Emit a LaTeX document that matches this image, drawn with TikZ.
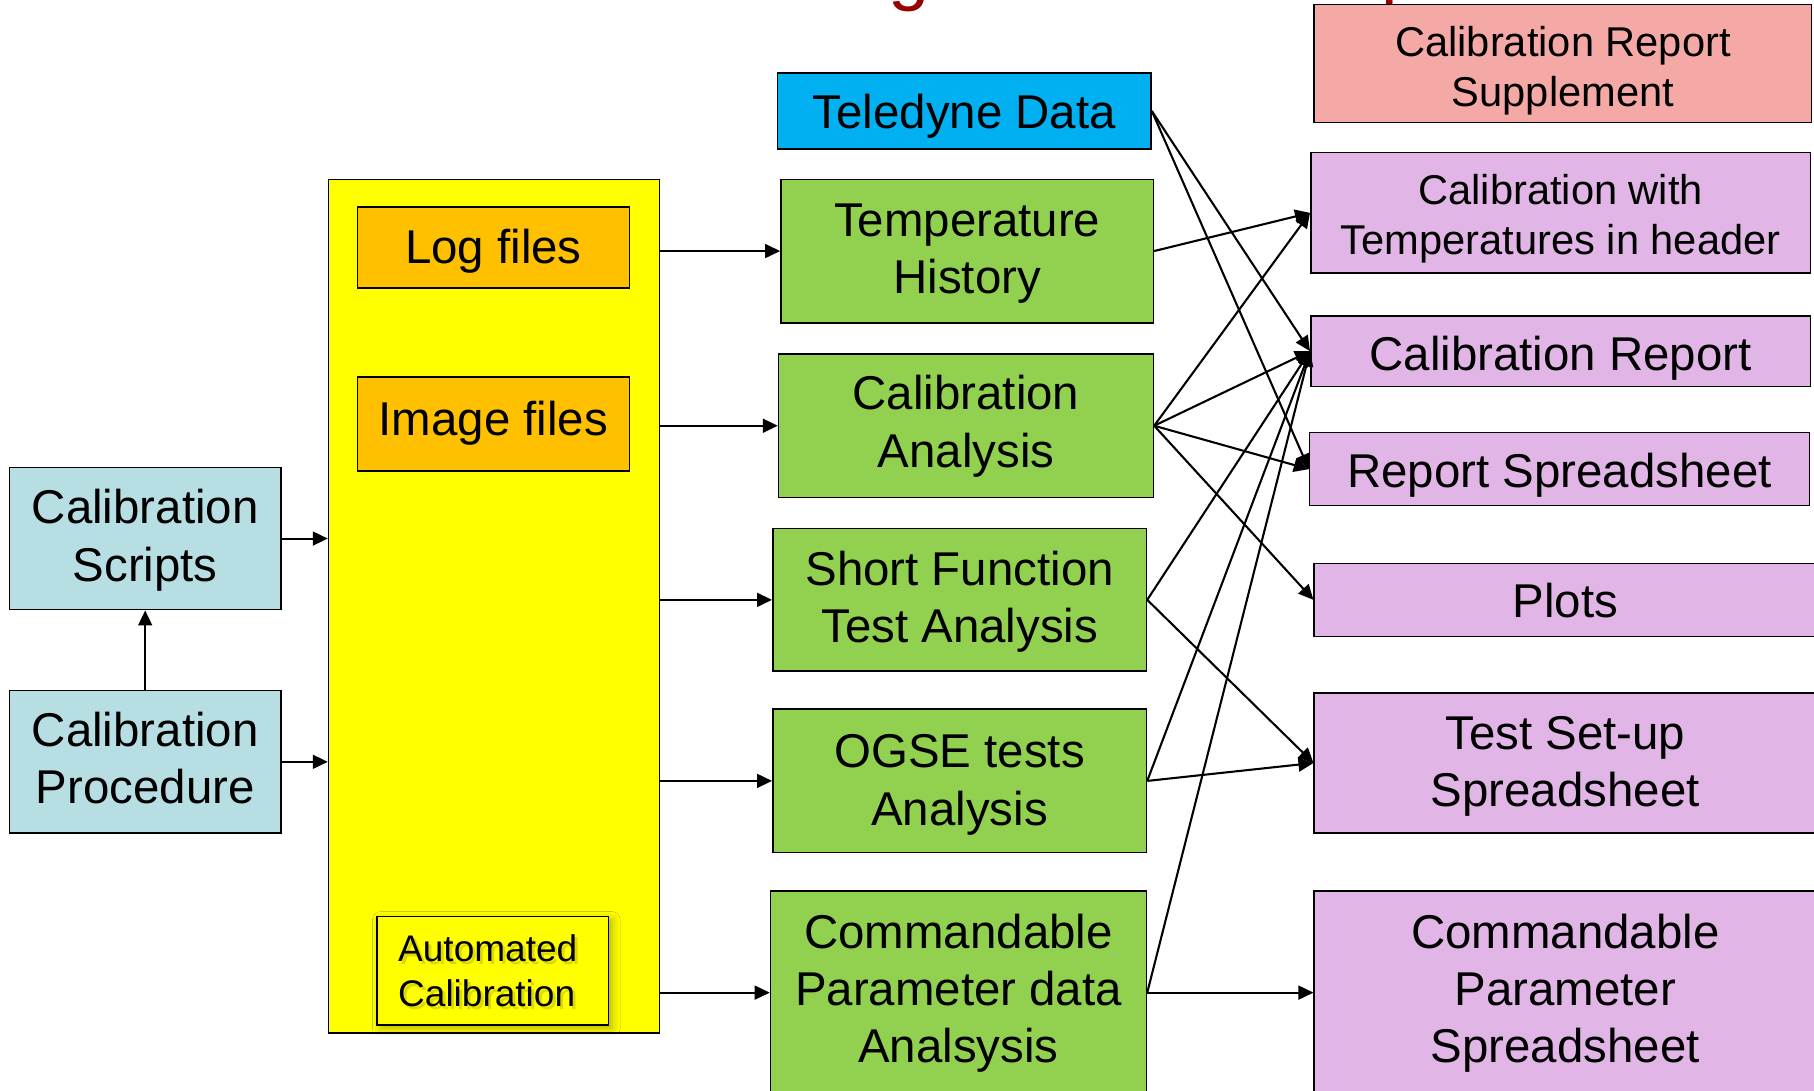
\documentclass[tikz,border=0pt]{standalone}
\usepackage{fontspec}
\setmainfont{Liberation Sans}
\usetikzlibrary{arrows.meta,shadows.blur}

\definecolor{scriptcol}{HTML}{B7DFE3}
\definecolor{filecol}{HTML}{FFFF00}
\definecolor{logcol}{HTML}{FFC000}
\definecolor{sourcecol}{HTML}{00B0F0}
\definecolor{analysiscol}{HTML}{92D050}
\definecolor{suppcol}{HTML}{F5A9A6}
\definecolor{productcol}{HTML}{E1B6E6}
\definecolor{titlecol}{HTML}{960000}

\newcommand{\bigtxt}{\fontsize{41}{49.5}\selectfont}
\newcommand{\midtxt}{\fontsize{36}{43.5}\selectfont}
\newcommand{\smalltxt}{\fontsize{32}{38.5}\selectfont}
% invisible strut that sets the height of a first text line
\newcommand{\lineup}[1]{\rule{0pt}{#1pt}}

\begin{document}
\begin{tikzpicture}[x=1pt,y=-1pt,
  texttop/.style={execute at begin node={\lineup{#1}}},
  box/.style={draw=black, line width=1.3pt, align=center, inner sep=0pt, font=\bigtxt,
              execute at end node={\rule[-9pt]{0pt}{0pt}}},
  scriptbox/.style={box, fill=scriptcol},
  filebox/.style={box, fill=logcol},
  sourcebox/.style={box, fill=sourcecol},
  anabox/.style={box, fill=analysiscol},
  prodbox/.style={box, fill=productcol},
  flow/.style={line width=1.8pt, -{Triangle[length=13pt,width=12pt]}},
]
\useasboundingbox (0,0) rectangle (1568,943);

% title descenders peeking in at the top edge
\node[anchor=base west, inner sep=0pt, text=titlecol, font=\fontsize{64}{70}\selectfont] (tg) at (768,-3) {g};
\node[anchor=base west, inner sep=0pt, text=titlecol, font=\fontsize{64}{70}\selectfont] (tp) at (1194,-3) {p};

% inputs on the left
\node[scriptbox, minimum width=235pt, minimum height=123pt] (scripts) at (125.5,465.5) {\lineup{33}Calibration\\Scripts};
\node[scriptbox, minimum width=235pt, minimum height=123pt] (proc) at (125.5,658.5) {\lineup{32}Calibration\\Procedure};

% data store
\node[box, fill=filecol, minimum width=286pt, minimum height=738pt] (files) at (427,524) {};
\node[filebox, texttop=37, minimum width=235pt, minimum height=70pt] (logs) at (426.5,214) {Log files};
\node[filebox, minimum width=235pt, minimum height=81pt] (images) at (426.5,366.5) {Image files};
\node[draw=black, line width=1.3pt, fill=filecol, minimum width=200pt, minimum height=94pt, inner sep=0pt,
      blur shadow={shadow xshift=3pt, shadow yshift=-3pt, shadow blur radius=7pt, shadow opacity=30}] (auto) at (426,839) {};
\node[anchor=west, align=left, inner sep=0pt, font=\smalltxt, text=olive, opacity=0.3] (autoshade) at (346.5,841.5) {Automated\\Calibration};
\node[anchor=west, align=left, inner sep=0pt, font=\smalltxt] (autotext) at (344,839) {Automated\\Calibration};

% analysis column
\node[sourcebox, texttop=39, minimum width=323pt, minimum height=66pt] (teledyne) at (833.5,96) {Teledyne Data};
\node[anabox, minimum width=322pt, minimum height=124pt] (temp) at (836,217) {\lineup{33}Temperature\\History};
\node[anabox, minimum width=324pt, minimum height=124pt] (calan) at (835,368) {\lineup{31}Calibration\\Analysis};
\node[anabox, minimum width=323pt, minimum height=123pt] (sfta) at (829.5,518.5) {\lineup{34}Short Function\\Test Analysis};
\node[anabox, minimum width=323pt, minimum height=124pt] (ogse) at (829.5,675) {\lineup{36}OGSE tests\\Analysis};
\node[anabox, minimum width=325pt, minimum height=176pt] (cmdan) at (828.5,858) {\lineup{31}Commandable\\Parameter data\\Analsysis};

% products on the right
\node[box, fill=suppcol, font=\midtxt, minimum width=430pt, minimum height=102pt] (supp) at (1351,55) {\lineup{40}Calibration Report\\Supplement};
\node[prodbox, font=\midtxt, minimum width=432pt, minimum height=104pt] (cwt) at (1349,184) {\lineup{38}Calibration with\\Temperatures in header};
\node[prodbox, texttop=43, minimum width=432pt, minimum height=61pt] (crep) at (1349,303.5) {Calibration Report};
\node[prodbox, texttop=41, minimum width=432pt, minimum height=63pt] (rsheet) at (1348,405.5) {Report Spreadsheet};
\node[prodbox, texttop=39, minimum width=434pt, minimum height=63pt] (plots) at (1353,518.5) {Plots};
\node[prodbox, minimum width=434pt, minimum height=121pt] (tsu) at (1353,659.5) {\lineup{35.5}Test Set-up\\Spreadsheet};
\node[prodbox, minimum width=434pt, minimum height=176pt] (cmdps) at (1353,858) {\lineup{31}Commandable\\Parameter\\Spreadsheet};

% inputs into the data store
\draw[flow] (proc.north) -- (scripts.south);
\draw[flow] (scripts.east) -- (scripts.east -| files.west);
\draw[flow] (proc.east) -- (proc.east -| files.west);

% data store into the analyses
\draw[flow] (temp.west -| files.east) -- (temp.west);
\draw[flow] (calan.west -| files.east) -- (calan.west);
\draw[flow] (sfta.west -| files.east) -- (sfta.west);
\draw[flow] (ogse.west -| files.east) -- (ogse.west);
\draw[flow] (cmdan.west -| files.east) -- (cmdan.west);

% analyses into the products
\draw[flow] (teledyne.east) -- (crep.west);
\draw[flow] (teledyne.east) -- (rsheet.west);
\draw[flow] (temp.east) -- (cwt.west);
\draw[flow] (calan.east) -- (cwt.west);
\draw[flow] (calan.east) -- (crep.west);
\draw[flow] (calan.east) -- (rsheet.west);
\draw[flow] (calan.east) -- (plots.west);
\draw[flow] (sfta.east) -- (crep.west);
\draw[flow] (sfta.east) -- (tsu.west);
\draw[flow] (ogse.east) -- (crep.west);
\draw[flow] (ogse.east) -- (tsu.west);
\draw[flow] (cmdan.east) -- (crep.west);
\draw[flow] (cmdan.east) -- (cmdps.west);
\end{tikzpicture}
\end{document}
